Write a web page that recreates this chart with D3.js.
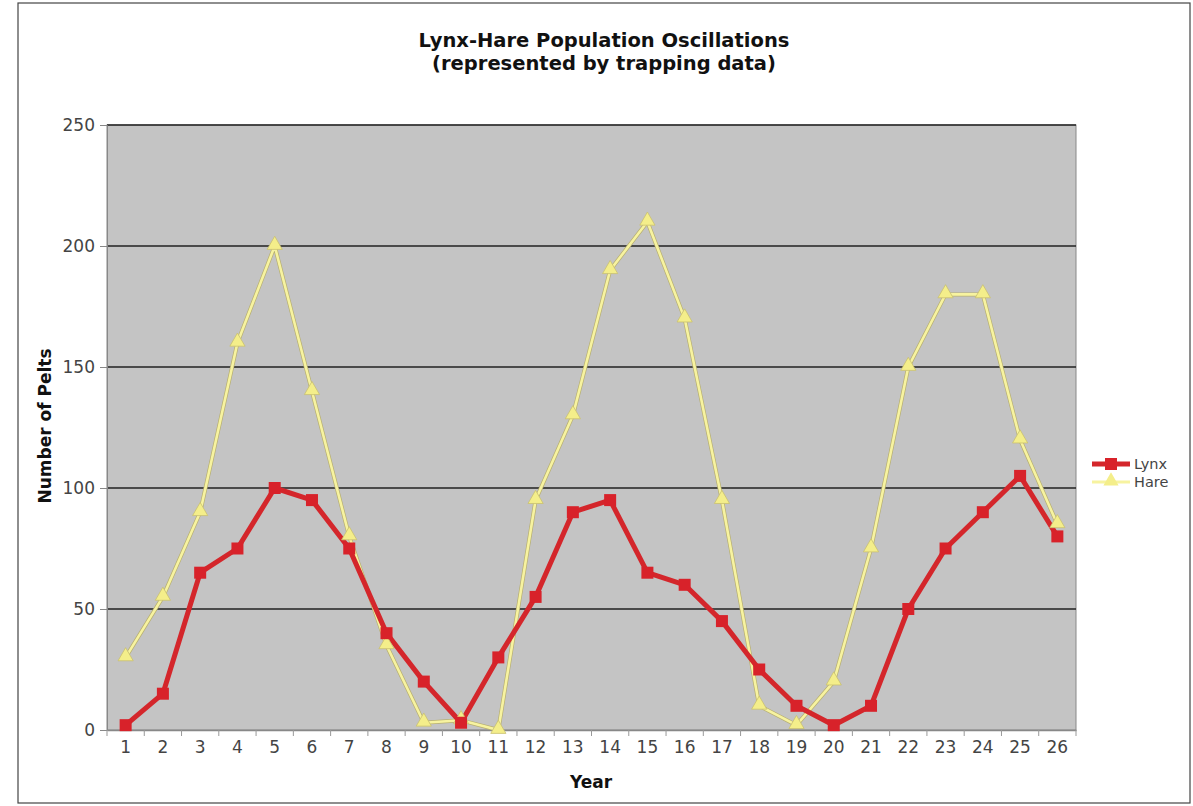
<!DOCTYPE html>
<html><head><meta charset="utf-8">
<script src="https://cdn.jsdelivr.net/npm/d3@7"></script>
<style>body{margin:0;background:#fff}svg{display:block}</style>
</head><body>
<svg id="c" width="1193" height="806"></svg>
<script>
const years = d3.range(1, 27).map(String);
const lynx = [2,15,65,75,100,95,75,40,20,3,30,55,90,95,65,60,45,25,10,2,10,50,75,90,105,80];
const hare = [30,55,90,160,200,140,80,35,3,4,0,95,130,190,210,170,95,10,2,20,75,150,180,180,120,85];
const yTicks = [0,50,100,150,200,250];
const titleLines = ["Lynx-Hare Population Oscillations","(represented by trapping data)"];

const svg = d3.select("#c");
const font = "Verdana, 'DejaVu Sans', sans-serif";
const m = {l:107, r:1076, t:125, b:730};

svg.append("rect").attr("x",18).attr("y",3).attr("width",1172).attr("height",800)
  .attr("fill","#fff").attr("stroke","#444").attr("stroke-width",1.2);

const x = d3.scaleBand().domain(years).range([m.l, m.r]);
const y = d3.scaleLinear().domain([0,250]).range([m.b, m.t]);

svg.append("rect").attr("x",m.l).attr("y",m.t).attr("width",m.r-m.l).attr("height",m.b-m.t)
  .attr("fill","#c4c4c4").attr("stroke","#888").attr("stroke-width",1);

svg.append("g").selectAll("line").data(yTicks.filter(d=>d>0)).join("line")
  .attr("x1",m.l).attr("x2",m.r).attr("y1",d=>y(d)).attr("y2",d=>y(d))
  .attr("stroke","#222").attr("stroke-width",1.5);

// y axis
const ya = svg.append("g").attr("transform",`translate(${m.l},0)`)
  .call(d3.axisLeft(y).tickValues(yTicks).tickSize(7).tickPadding(5));
ya.select(".domain").attr("stroke","#888");
ya.selectAll(".tick line").attr("stroke","#888");
ya.selectAll("text").attr("font-family",font).attr("font-size",17).attr("fill","#444");

// x axis
const xa = svg.append("g").attr("transform",`translate(0,${m.b})`)
  .call(d3.axisBottom(x).tickSize(0).tickPadding(11));
xa.select(".domain").attr("stroke","#888").attr("stroke-width",1.5);
xa.selectAll("text").attr("font-family",font).attr("font-size",17).attr("fill","#444");
// ticks between categories
svg.append("g").selectAll("line").data(years.concat(["end"])).join("line")
  .attr("x1",(d,i)=>m.l + i*x.step()).attr("x2",(d,i)=>m.l + i*x.step())
  .attr("y1",m.b).attr("y2",m.b+6).attr("stroke","#999");

const cx = d => x(d) + x.bandwidth()/2;

const hareData = years.map((d,i)=>[d,hare[i]]);
const lynxData = years.map((d,i)=>[d,lynx[i]]);
const line = d3.line().x(d=>cx(d[0])).y(d=>y(d[1]));

svg.append("path").datum(hareData).attr("d",line).attr("fill","none")
  .attr("stroke","#b8b070").attr("stroke-width",4).attr("stroke-linejoin","round");
svg.append("path").datum(hareData).attr("d",line).attr("fill","none")
  .attr("stroke","#f7f3a0").attr("stroke-width",2.6).attr("stroke-linejoin","round");

svg.append("path").datum(lynxData).attr("d",line).attr("fill","none")
  .attr("stroke","#d4262b").attr("stroke-width",5).attr("stroke-linejoin","round");

const tri = d3.symbol().type(d3.symbolTriangle).size(100);
svg.append("g").selectAll("path").data(hareData).join("path")
  .attr("d",tri).attr("transform",d=>`translate(${cx(d[0])},${y(d[1])-1})`)
  .attr("fill","#f4ee8a").attr("stroke","#c9c070").attr("stroke-width",0.8);

svg.append("g").selectAll("rect").data(lynxData).join("rect")
  .attr("x",d=>cx(d[0])-6).attr("y",d=>y(d[1])-6).attr("width",12).attr("height",12)
  .attr("fill","#d8222a");

// titles
svg.append("g").selectAll("text").data(titleLines).join("text")
  .attr("x",604).attr("y",(d,i)=>47+i*23).attr("text-anchor","middle")
  .attr("font-family",font).attr("font-weight","bold").attr("font-size",19.5).attr("fill","#111")
  .text(d=>d);

svg.append("text").attr("transform","translate(51,426) rotate(-90)").attr("text-anchor","middle")
  .attr("font-family",font).attr("font-weight","bold").attr("font-size",17).attr("fill","#111")
  .text("Number of Pelts");
svg.append("text").attr("x",591).attr("y",788).attr("text-anchor","middle")
  .attr("font-family",font).attr("font-weight","bold").attr("font-size",17).attr("fill","#111")
  .text("Year");

// legend
const leg = svg.append("g");
const series = [{n:"Lynx",c:"#d4262b",w:5,y:464},{n:"Hare",c:"#f7f3a0",w:3,y:482}];
series.forEach(s=>{
  leg.append("line").attr("x1",1092).attr("x2",1130).attr("y1",s.y).attr("y2",s.y)
    .attr("stroke",s.c).attr("stroke-width",s.w);
  if(s.n==="Lynx") leg.append("rect").attr("x",1105).attr("y",s.y-6).attr("width",12).attr("height",12).attr("fill","#d8222a");
  else leg.append("path").attr("d",tri).attr("transform",`translate(1111,${s.y-1})`).attr("fill","#f4ee8a");
  leg.append("text").attr("x",1134).attr("y",s.y+5).attr("font-family",font).attr("font-size",14.5)
    .attr("fill","#444").text(s.n);
});
</script>
</body></html>
